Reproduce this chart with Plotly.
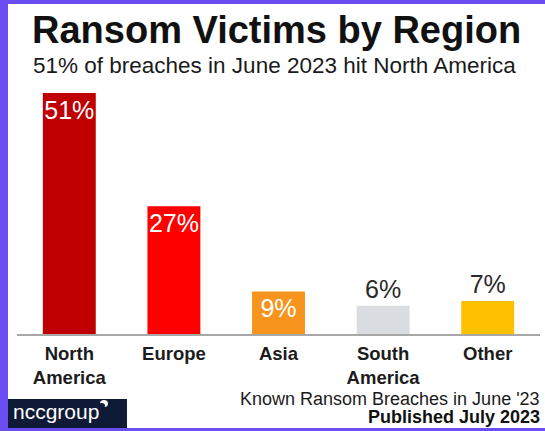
import plotly.graph_objects as go

# ---- data ----
regions = ["North<br>America", "Europe", "Asia", "South<br>America", "Other"]
shares = [51, 27, 9, 6, 7]
labels = ["51%", "27%", "9%", "6%", "7%"]
colors = ["#c00000", "#ff0000", "#f7941d", "#d9dde1", "#ffc000"]
text_pos = ["inside", "inside", "inside", "outside", "outside"]
text_colors = ["#ffffff", "#ffffff", "#ffffff", "#2a2a2a", "#2a2a2a"]

title = "Ransom Victims by Region"
subtitle = "51% of breaches in June 2023 hit North America"
source = "Known Ransom Breaches in June '23"
published = "Published July 2023"

W, H = 545, 431
FONT = "Liberation Sans, Arial, sans-serif"

def px(x):
    return x / W

def py(y):
    return 1 - y / H

fig = go.Figure()
fig.add_trace(go.Bar(
    x=regions, y=shares, text=labels,
    textposition=text_pos,
    insidetextanchor="end",
    textangle=0,
    constraintext="none",
    textfont=dict(family=FONT, size=25, color=text_colors),
    marker=dict(color=colors, line=dict(width=0)),
    cliponaxis=False,
    hoverinfo="skip",
))

fig.update_layout(
    width=W, height=H, autosize=False,
    margin=dict(l=0, r=0, t=0, b=0),
    paper_bgcolor="white", plot_bgcolor="white",
    showlegend=False,
    bargap=0.494,
    font=dict(family=FONT),
    xaxis=dict(
        domain=[px(17), px(540)],
        range=[-0.5, 4.5],
        showline=True, linecolor="#a8a8a8", linewidth=1.5,
        showgrid=False, zeroline=False,
        ticks="outside", ticklen=2, tickcolor="rgba(0,0,0,0)",
        tickfont=dict(family=FONT, size=18.5, color="#1c1c1c", weight="bold"),
        fixedrange=True,
    ),
    yaxis=dict(
        domain=[1 - 334 / H, 1 - 74 / H],
        range=[0, 55],
        visible=False,
        fixedrange=True,
    ),
)

shapes = [
    # purple frame
    dict(type="rect", xref="paper", yref="paper", x0=0, x1=px(8), y0=0, y1=1,
         fillcolor="#6b4ef2", line=dict(width=0), layer="above"),
    dict(type="rect", xref="paper", yref="paper", x0=0, x1=1, y0=py(4), y1=1,
         fillcolor="#6b4ef2", line=dict(width=0), layer="above"),
    dict(type="rect", xref="paper", yref="paper", x0=0, x1=1, y0=0, y1=py(428),
         fillcolor="#6b4ef2", line=dict(width=0), layer="above"),
    # logo box
    dict(type="rect", xref="paper", yref="paper", x0=px(8), x1=px(127), y0=py(428), y1=py(399),
         fillcolor="#0e1a36", line=dict(width=0), layer="below"),
    # logo swoosh
    dict(type="circle", xref="paper", yref="paper", x0=px(100), x1=px(108), y0=py(407), y1=py(400),
         fillcolor="#ffffff", line=dict(width=0), layer="above"),
    dict(type="circle", xref="paper", yref="paper", x0=px(98), x1=px(105), y0=py(408), y1=py(403),
         fillcolor="#0e1a36", line=dict(width=0), layer="above"),
]
fig.update_layout(shapes=shapes)

annotations = [
    dict(text=f"<b>{title}</b>", x=px(30), y=py(30.5), xanchor="left", yanchor="middle",
         font=dict(family=FONT, size=38, color="#111111")),
    dict(text=subtitle, x=px(31), y=py(65.5), xanchor="left", yanchor="middle",
         font=dict(family=FONT, size=22.5, color="#1a1a1a")),
    dict(text=source, x=px(542), y=py(398.5), xanchor="right", yanchor="middle",
         font=dict(family=FONT, size=18, color="#1a1a1a")),
    dict(text=f"<b>{published}</b>", x=px(542), y=py(417), xanchor="right", yanchor="middle",
         font=dict(family=FONT, size=18, color="#111111")),
    dict(text="nccgroup", x=px(11), y=py(411), xanchor="left", yanchor="middle",
         font=dict(family=FONT, size=21, color="#ffffff")),
]
for a in annotations:
    a.update(xref="paper", yref="paper", showarrow=False)
fig.update_layout(annotations=annotations)

fig.write_html(
    "out.html",
    config={"displayModeBar": False},
    post_script="document.body.style.margin='0';document.body.style.overflow='hidden';",
)
